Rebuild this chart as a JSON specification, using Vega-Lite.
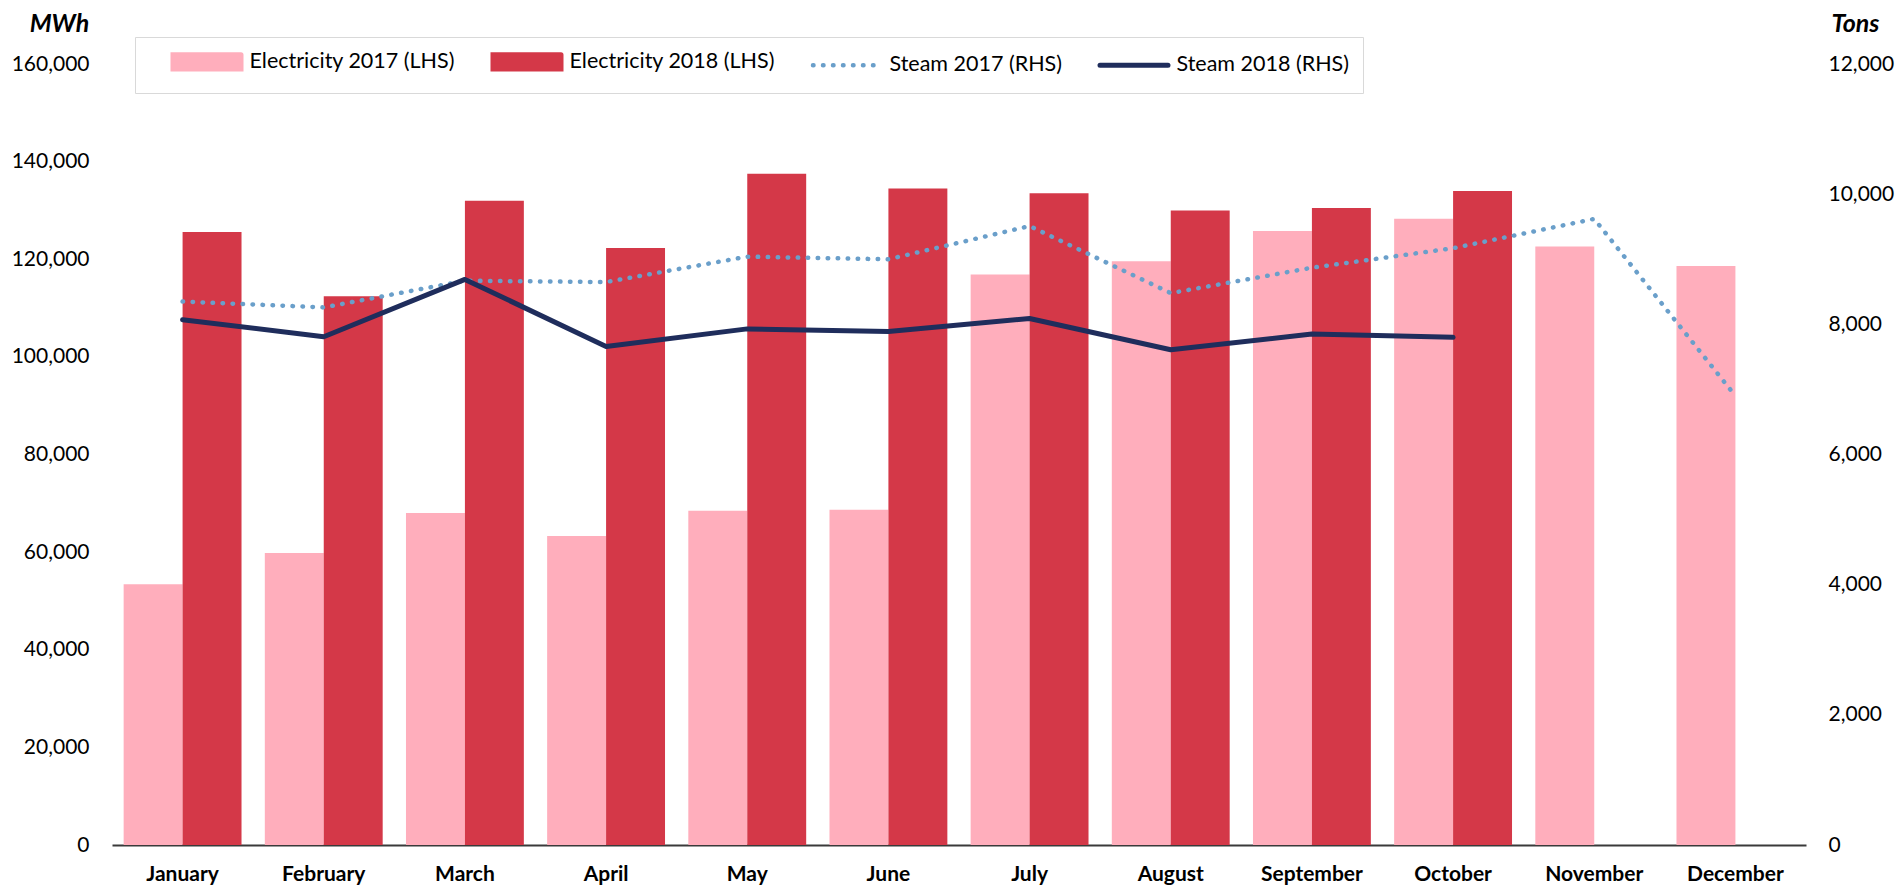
{
  "$schema": "https://vega.github.io/schema/vega-lite/v6.json",
  "width": 1694,
  "height": 781,
  "autosize": {"type": "none"},
  "padding": {"left": 112, "top": 64, "right": 92, "bottom": 43},
  "background": "white",
  "config": {
    "view": {"stroke": null},
    "axis": {"grid": false, "labelFont": "Lato", "titleFont": "Lato", "labelColor": "#000000", "titleColor": "#000000"}
  },
  "data": {
    "values": [
      {"month": "January", "series": "Electricity 2017 (LHS)", "value": 53400},
      {"month": "February", "series": "Electricity 2017 (LHS)", "value": 59800},
      {"month": "March", "series": "Electricity 2017 (LHS)", "value": 68000},
      {"month": "April", "series": "Electricity 2017 (LHS)", "value": 63300},
      {"month": "May", "series": "Electricity 2017 (LHS)", "value": 68500},
      {"month": "June", "series": "Electricity 2017 (LHS)", "value": 68700},
      {"month": "July", "series": "Electricity 2017 (LHS)", "value": 116900},
      {"month": "August", "series": "Electricity 2017 (LHS)", "value": 119600},
      {"month": "September", "series": "Electricity 2017 (LHS)", "value": 125800},
      {"month": "October", "series": "Electricity 2017 (LHS)", "value": 128300},
      {"month": "November", "series": "Electricity 2017 (LHS)", "value": 122600},
      {"month": "December", "series": "Electricity 2017 (LHS)", "value": 118600},
      {"month": "January", "series": "Electricity 2018 (LHS)", "value": 125600},
      {"month": "February", "series": "Electricity 2018 (LHS)", "value": 112400},
      {"month": "March", "series": "Electricity 2018 (LHS)", "value": 132000},
      {"month": "April", "series": "Electricity 2018 (LHS)", "value": 122300},
      {"month": "May", "series": "Electricity 2018 (LHS)", "value": 137500},
      {"month": "June", "series": "Electricity 2018 (LHS)", "value": 134500},
      {"month": "July", "series": "Electricity 2018 (LHS)", "value": 133500},
      {"month": "August", "series": "Electricity 2018 (LHS)", "value": 130000},
      {"month": "September", "series": "Electricity 2018 (LHS)", "value": 130500},
      {"month": "October", "series": "Electricity 2018 (LHS)", "value": 134000},
      {"month": "January", "series": "Steam 2017 (RHS)", "value": 8350},
      {"month": "February", "series": "Steam 2017 (RHS)", "value": 8260},
      {"month": "March", "series": "Steam 2017 (RHS)", "value": 8670},
      {"month": "April", "series": "Steam 2017 (RHS)", "value": 8650},
      {"month": "May", "series": "Steam 2017 (RHS)", "value": 9040},
      {"month": "June", "series": "Steam 2017 (RHS)", "value": 9000},
      {"month": "July", "series": "Steam 2017 (RHS)", "value": 9510},
      {"month": "August", "series": "Steam 2017 (RHS)", "value": 8480},
      {"month": "September", "series": "Steam 2017 (RHS)", "value": 8870},
      {"month": "October", "series": "Steam 2017 (RHS)", "value": 9170},
      {"month": "November", "series": "Steam 2017 (RHS)", "value": 9620},
      {"month": "December", "series": "Steam 2017 (RHS)", "value": 6900},
      {"month": "January", "series": "Steam 2018 (RHS)", "value": 8070},
      {"month": "February", "series": "Steam 2018 (RHS)", "value": 7810},
      {"month": "March", "series": "Steam 2018 (RHS)", "value": 8690},
      {"month": "April", "series": "Steam 2018 (RHS)", "value": 7660},
      {"month": "May", "series": "Steam 2018 (RHS)", "value": 7930},
      {"month": "June", "series": "Steam 2018 (RHS)", "value": 7890},
      {"month": "July", "series": "Steam 2018 (RHS)", "value": 8090},
      {"month": "August", "series": "Steam 2018 (RHS)", "value": 7610},
      {"month": "September", "series": "Steam 2018 (RHS)", "value": 7850},
      {"month": "October", "series": "Steam 2018 (RHS)", "value": 7800}
    ]
  },
  "encoding": {
    "x": {
      "field": "month", "type": "nominal",
      "sort": ["January", "February", "March", "April", "May", "June", "July", "August", "September", "October", "November", "December"],
      "scale": {"paddingInner": 0.165, "paddingOuter": 0.0825},
      "axis": {
        "title": null, "labelAngle": 0, "ticks": false, "domain": true,
        "domainColor": "#3a3a3a", "domainWidth": 2,
        "labelFontSize": 21, "labelFontWeight": "bold", "labelPadding": 18
      }
    },
    "color": {
      "field": "series", "type": "nominal",
      "scale": {
        "domain": ["Electricity 2017 (LHS)", "Electricity 2018 (LHS)", "Steam 2017 (RHS)", "Steam 2018 (RHS)"],
        "range": ["#FFAEBC", "#D43848", "#6A9FCA", "#1F2D5C"]
      },
      "legend": {
        "title": null,
        "orient": "none", "legendX": 23, "legendY": -27,
        "direction": "horizontal", "columns": 4,
        "strokeColor": "#D9D9D9", "fillColor": "white", "padding": 14,
        "labelFont": "Lato", "labelFontSize": 21.5, "labelColor": "#000000", "labelLimit": 500,
        "labelOffset": 79, "columnPadding": 14,
        "symbolType": "stroke", "symbolSize": 4624,
        "encode": {
          "symbols": {
            "update": {
              "x": {"value": 58},
              "shape": {"signal": "indexof(datum.value, 'Steam') == 0 ? 'stroke' : 'M-1,-0.21H1V0.21H-1Z'"},
              "size": {"value": 4624},
              "fill": {"signal": "datum.value == 'Electricity 2017 (LHS)' ? '#FFAEBC' : (datum.value == 'Electricity 2018 (LHS)' ? '#D43848' : 'transparent')"},
              "stroke": {"signal": "datum.value == 'Steam 2017 (RHS)' ? '#6A9FCA' : (datum.value == 'Steam 2018 (RHS)' ? '#1F2D5C' : 'transparent')"},
              "strokeWidth": {"signal": "datum.value == 'Steam 2017 (RHS)' ? 4.5 : 5"},
              "strokeDash": {"signal": "datum.value == 'Steam 2017 (RHS)' ? [0.5, 9.5] : [1, 0]"},
              "strokeCap": {"value": "round"},
              "opacity": {"value": 1}
            }
          }
        }
      }
    }
  },
  "layer": [
    {
      "transform": [{"filter": "indexof(datum.series, 'Electricity') == 0"}],
      "mark": {"type": "bar", "opacity": 1},
      "encoding": {
        "xOffset": {"field": "series", "type": "nominal", "scale": {"paddingInner": 0, "paddingOuter": 0}},
        "y": {
          "field": "value", "type": "quantitative",
          "scale": {"domain": [0, 160000], "nice": false},
          "axis": {
            "orient": "left", "values": [0, 20000, 40000, 60000, 80000, 100000, 120000, 140000, 160000],
            "format": ",.0f", "domain": false, "ticks": false,
            "labelFontSize": 21, "labelPadding": 23,
            "title": "MWh", "titleAngle": 0, "titleFontSize": 25, "titleFontWeight": "bold", "titleFontStyle": "italic",
            "titleX": -53, "titleY": -41, "titleAlign": "center", "titleBaseline": "middle"
          }
        }
      }
    },
    {
      "transform": [{"filter": "datum.series == 'Steam 2017 (RHS)'"}],
      "mark": {"type": "line", "strokeWidth": 4.5, "strokeDash": [0.5, 9.5], "strokeCap": "round", "strokeJoin": "round"},
      "encoding": {
        "y": {
          "field": "value", "type": "quantitative",
          "scale": {"domain": [0, 12000], "nice": false},
          "axis": {
            "orient": "right", "values": [0, 2000, 4000, 6000, 8000, 10000, 12000],
            "format": ",.0f", "domain": false, "ticks": false,
            "labelFontSize": 21, "labelPadding": 22,
            "title": "Tons", "titleAngle": 0, "titleFontSize": 25, "titleFontWeight": "bold", "titleFontStyle": "italic",
            "titleX": 49, "titleY": -41, "titleAlign": "center", "titleBaseline": "middle"
          }
        }
      }
    },
    {
      "transform": [{"filter": "datum.series == 'Steam 2018 (RHS)'"}],
      "mark": {"type": "line", "strokeWidth": 5, "strokeCap": "round", "strokeJoin": "round"},
      "encoding": {
        "y": {"field": "value", "type": "quantitative", "scale": {"domain": [0, 12000], "nice": false}, "axis": null}
      }
    }
  ],
  "resolve": {"scale": {"y": "independent"}}
}
